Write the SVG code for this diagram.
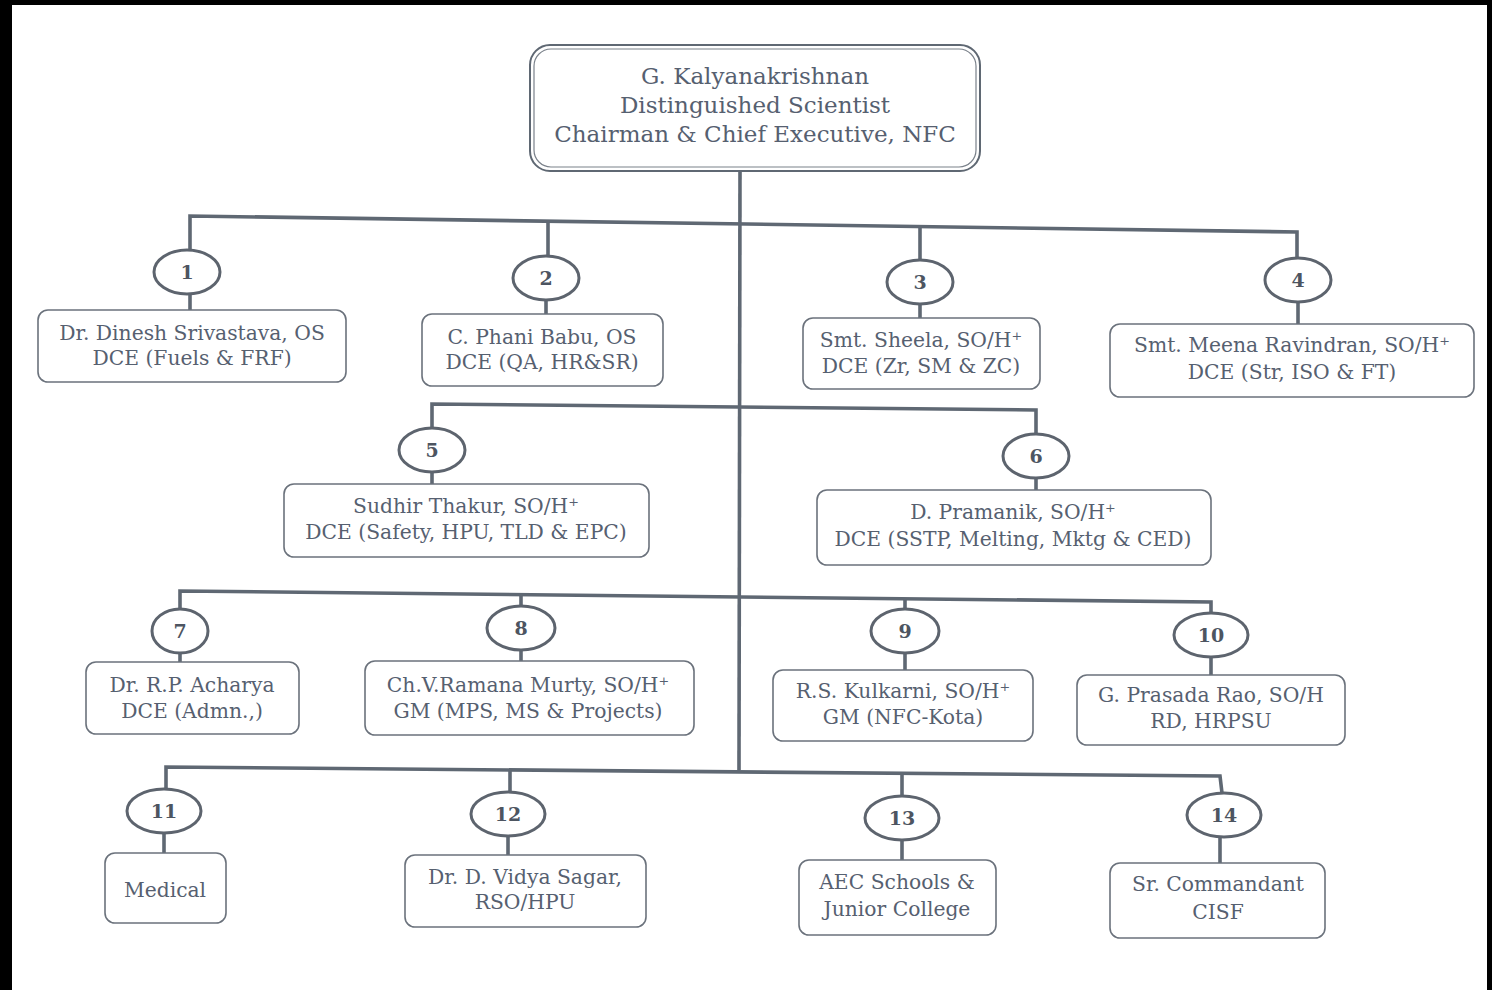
<svg xmlns="http://www.w3.org/2000/svg" width="1492" height="990" viewBox="0 0 1492 990">
<style>
.bg{fill:#ffffff}
.frame{fill:#000000}
.box{fill:#ffffff;stroke:#6b727c;stroke-width:1.6}
.num{fill:#ffffff;stroke:#5d646e;stroke-width:3}
.ln{fill:none;stroke:#5f6873;stroke-width:3.6;stroke-linejoin:miter}
.t{font-family:"DejaVu Serif","Liberation Serif",serif;font-size:20.3px;fill:#566070;text-anchor:middle}
.tt{font-family:"DejaVu Serif","Liberation Serif",serif;font-size:23px;fill:#566070;text-anchor:middle}
.n{font-family:"DejaVu Serif","Liberation Serif",serif;font-size:19px;font-weight:bold;fill:#4d5561;text-anchor:middle}
</style>
<rect class="bg" x="0" y="0" width="1492" height="990"/>
<rect class="frame" x="0" y="0" width="1492" height="5"/>
<rect class="frame" x="0" y="0" width="12" height="990"/>
<rect class="frame" x="1487" y="0" width="5" height="990"/>

<g id="connectors">
  <path class="ln" d="M740,170 L739,770"/>
  <path class="ln" d="M190,250 L190,216 L1297,232 L1297,258"/>
  <path class="ln" d="M548,222 L548,256"/>
  <path class="ln" d="M920,227 L920,260"/>
  <path class="ln" d="M190,294 L190,311"/>
  <path class="ln" d="M546,300 L546,315"/>
  <path class="ln" d="M920,304 L920,319"/>
  <path class="ln" d="M1298,302 L1298,325"/>
  <path class="ln" d="M432,428 L432,404 L1036,410 L1036,434"/>
  <path class="ln" d="M432,472 L432,485"/>
  <path class="ln" d="M1036,478 L1036,491"/>
  <path class="ln" d="M180,609 L180,591 L1211,602 L1211,613"/>
  <path class="ln" d="M521,595 L521,606"/>
  <path class="ln" d="M905,599 L905,609"/>
  <path class="ln" d="M180,653 L180,663"/>
  <path class="ln" d="M521,650 L521,662"/>
  <path class="ln" d="M905,653 L905,671"/>
  <path class="ln" d="M1211,657 L1211,676"/>
  <path class="ln" d="M166,789 L166,767 L1220,776 L1222,793"/>
  <path class="ln" d="M510,770 L510,792"/>
  <path class="ln" d="M902,773 L902,796"/>
  <path class="ln" d="M164,833 L164,854"/>
  <path class="ln" d="M508,836 L508,856"/>
  <path class="ln" d="M902,840 L902,861"/>
  <path class="ln" d="M1220,837 L1220,864"/>
</g>

<g id="chairman">
  <rect x="530" y="45" width="450" height="126" rx="20" fill="#ffffff" stroke="#5f6873" stroke-width="2"/>
  <rect x="534" y="49" width="442" height="118" rx="17" fill="none" stroke="#7a818a" stroke-width="1.2"/>
  <text class="tt" x="755" y="84">G. Kalyanakrishnan</text>
  <text class="tt" x="755" y="113">Distinguished Scientist</text>
  <text class="tt" x="755" y="142">Chairman &amp; Chief Executive, NFC</text>
</g>

<g id="n1">
  <ellipse class="num" cx="187" cy="272" rx="33" ry="22"/>
  <text class="n" x="187" y="279">1</text>
  <rect class="box" x="38" y="310" width="308" height="72" rx="10"/>
  <text class="t" x="192" y="340">Dr. Dinesh Srivastava, OS</text>
  <text class="t" x="192" y="365">DCE (Fuels &amp; FRF)</text>
</g>
<g id="n2">
  <ellipse class="num" cx="546" cy="278" rx="33" ry="22"/>
  <text class="n" x="546" y="285">2</text>
  <rect class="box" x="422" y="314" width="241" height="72" rx="10"/>
  <text class="t" x="542" y="344">C. Phani Babu, OS</text>
  <text class="t" x="542" y="369">DCE (QA, HR&amp;SR)</text>
</g>
<g id="n3">
  <ellipse class="num" cx="920" cy="282" rx="33" ry="22"/>
  <text class="n" x="920" y="289">3</text>
  <rect class="box" x="803" y="318" width="237" height="71" rx="10"/>
  <text class="t" x="921" y="347">Smt. Sheela, SO/H⁺</text>
  <text class="t" x="921" y="373">DCE (Zr, SM &amp; ZC)</text>
</g>
<g id="n4">
  <ellipse class="num" cx="1298" cy="280" rx="33" ry="22"/>
  <text class="n" x="1298" y="287">4</text>
  <rect class="box" x="1110" y="324" width="364" height="73" rx="10"/>
  <text class="t" x="1292" y="352">Smt. Meena Ravindran, SO/H⁺</text>
  <text class="t" x="1292" y="379">DCE (Str, ISO &amp; FT)</text>
</g>
<g id="n5">
  <ellipse class="num" cx="432" cy="450" rx="33" ry="22"/>
  <text class="n" x="432" y="457">5</text>
  <rect class="box" x="284" y="484" width="365" height="73" rx="10"/>
  <text class="t" x="466" y="513">Sudhir Thakur, SO/H⁺</text>
  <text class="t" x="466" y="539">DCE (Safety, HPU, TLD &amp; EPC)</text>
</g>
<g id="n6">
  <ellipse class="num" cx="1036" cy="456" rx="33" ry="22"/>
  <text class="n" x="1036" y="463">6</text>
  <rect class="box" x="817" y="490" width="394" height="75" rx="10"/>
  <text class="t" x="1013" y="519">D. Pramanik, SO/H⁺</text>
  <text class="t" x="1013" y="546">DCE (SSTP, Melting, Mktg &amp; CED)</text>
</g>
<g id="n7">
  <ellipse class="num" cx="180" cy="631" rx="28" ry="22"/>
  <text class="n" x="180" y="638">7</text>
  <rect class="box" x="86" y="662" width="213" height="72" rx="10"/>
  <text class="t" x="192" y="692">Dr. R.P. Acharya</text>
  <text class="t" x="192" y="718">DCE (Admn.,)</text>
</g>
<g id="n8">
  <ellipse class="num" cx="521" cy="628" rx="34" ry="22"/>
  <text class="n" x="521" y="635">8</text>
  <rect class="box" x="365" y="661" width="329" height="74" rx="10"/>
  <text class="t" x="528" y="692">Ch.V.Ramana Murty, SO/H⁺</text>
  <text class="t" x="528" y="718">GM (MPS, MS &amp; Projects)</text>
</g>
<g id="n9">
  <ellipse class="num" cx="905" cy="631" rx="34" ry="22"/>
  <text class="n" x="905" y="638">9</text>
  <rect class="box" x="773" y="670" width="260" height="71" rx="10"/>
  <text class="t" x="903" y="698">R.S. Kulkarni, SO/H⁺</text>
  <text class="t" x="903" y="724">GM (NFC-Kota)</text>
</g>
<g id="n10">
  <ellipse class="num" cx="1211" cy="635" rx="37" ry="22"/>
  <text class="n" x="1211" y="642">10</text>
  <rect class="box" x="1077" y="675" width="268" height="70" rx="10"/>
  <text class="t" x="1211" y="702">G. Prasada Rao, SO/H</text>
  <text class="t" x="1211" y="728">RD, HRPSU</text>
</g>
<g id="n11">
  <ellipse class="num" cx="164" cy="811" rx="37" ry="22"/>
  <text class="n" x="164" y="818">11</text>
  <rect class="box" x="105" y="853" width="121" height="70" rx="10"/>
  <text class="t" x="165" y="897">Medical</text>
</g>
<g id="n12">
  <ellipse class="num" cx="508" cy="814" rx="37" ry="22"/>
  <text class="n" x="508" y="821">12</text>
  <rect class="box" x="405" y="855" width="241" height="72" rx="10"/>
  <text class="t" x="525" y="884">Dr. D. Vidya Sagar,</text>
  <text class="t" x="525" y="909">RSO/HPU</text>
</g>
<g id="n13">
  <ellipse class="num" cx="902" cy="818" rx="37" ry="22"/>
  <text class="n" x="902" y="825">13</text>
  <rect class="box" x="799" y="860" width="197" height="75" rx="10"/>
  <text class="t" x="897" y="889">AEC Schools &amp;</text>
  <text class="t" x="897" y="916">Junior College</text>
</g>
<g id="n14">
  <ellipse class="num" cx="1224" cy="815" rx="37" ry="22"/>
  <text class="n" x="1224" y="822">14</text>
  <rect class="box" x="1110" y="863" width="215" height="75" rx="10"/>
  <text class="t" x="1218" y="891">Sr. Commandant</text>
  <text class="t" x="1218" y="919">CISF</text>
</g>
</svg>
